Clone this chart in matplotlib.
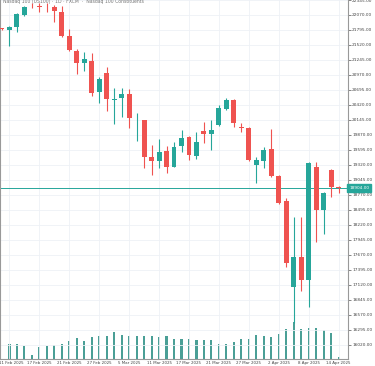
import datetime as dt
import matplotlib
matplotlib.use("Agg")
import matplotlib.pyplot as plt
import matplotlib.transforms as mtransforms
import numpy as np

# ---------------- data ----------------
dates = []
d = dt.date(2025, 2, 10)
while len(dates) < 46:
    if d.weekday() < 5:
        dates.append(d)
    d += dt.timedelta(days=1)

opens = [21830, 21795, 21850, 22070, 22240, 22235, 22240, 22217, 22125, 21685,
         21410, 21190, 21227, 20658, 21007, 20512, 20548, 20622, 20195, 20145,
         19467, 19393, 19577, 19283, 19668, 19833, 19485, 19943, 19888, 20053,
         20347, 20512, 20017, 19998, 19320, 19393, 19613, 19118, 18660, 17083,
         17633, 17212, 19283, 18495, 19228, 18910]
highs = [21840, 21860, 22107, 22235, 22290, 22290, 22295, 22253, 22235, 21813,
         21447, 21392, 21373, 20933, 21117, 20732, 20732, 20713, 20273, 20150,
         19687, 19797, 19668, 19742, 19962, 19852, 19925, 20108, 20145, 20420,
         20548, 20530, 20090, 20017, 19467, 19650, 19980, 19137, 18715, 18367,
         18367, 19375, 19375, 18825, 19247, 18935]
lows = [21800, 21502, 21758, 22060, 22198, 22125, 22125, 21942, 21667, 21410,
        20988, 21043, 20585, 20457, 20310, 20072, 20200, 19998, 19760, 19265,
        19137, 19265, 19173, 19280, 19558, 19412, 19430, 19723, 19595, 20035,
        20328, 20017, 19925, 19393, 18990, 19265, 19100, 18605, 17450, 16423,
        17003, 16717, 17908, 18055, 18733, 18807]
closes = [21813, 21850, 22088, 22217, 22230, 22225, 22230, 22143, 21685, 21428,
          21190, 21263, 20640, 20897, 20530, 20530, 20622, 20182, 20205, 19467,
          19393, 19558, 19283, 19650, 19815, 19503, 19742, 19888, 19962, 20365,
          20512, 20090, 19998, 19412, 19412, 19595, 19118, 18623, 17523, 17633,
          17212, 19357, 18495, 18807, 18917, 18904]
volumes = [0, 153, 153, 127, 43, 117, 133, 143, 153, 177,
           210, 177, 220, 227, 233, 267, 243, 227, 227, 227,
           233, 220, 233, 200, 200, 200, 187, 187, 187, 153,
           153, 167, 200, 200, 243, 227, 222, 253, 300, 367,
           305, 312, 312, 293, 260, 25]
tick_idx = list(range(1, 46, 4))
y_ticks = [16020 + 275 * j for j in range(24)]
last_price = 18904.00
title = "Nasdaq 100 (US100) · 1D · FXCM  ·  Nasdaq 100 Constituents"

# ---------------- styling ----------------
UP = "#26a69a"
DOWN = "#ef5350"
W, H = 375, 366
fig = plt.figure(figsize=(W / 100, H / 100), dpi=100)
fig.patch.set_facecolor("white")

left_px, right_px, top_px, bot_px = 0, 348, 0, 359
ax = fig.add_axes([left_px / W, (H - bot_px) / H, (right_px - left_px) / W,
                   (bot_px - top_px) / H])
axv = ax.twinx()
axv.set_zorder(0)
ax.set_zorder(1)
ax.patch.set_visible(False)

n = len(opens)
x = np.arange(n)

# volume
axv.bar(x, volumes, width=0.28, color="#4a9f96", linewidth=0)
axv.set_ylim(0, 3590)
axv.axis("off")

# candles
for i in range(n):
    o, h, l, c = opens[i], highs[i], lows[i], closes[i]
    col = UP if c >= o else DOWN
    ax.vlines(x[i], l, h, color=col, linewidth=0.8, zorder=3)
    bottom = min(o, c)
    height = max(abs(c - o), 12)
    ax.bar(x[i], height, bottom=bottom, width=0.66, color=col,
           linewidth=0, zorder=4)

ax.set_xlim(-0.267, 46.26)
ax.set_ylim(15763, 22345)

# price line
ax.axhline(last_price, color=UP, linewidth=0.7, zorder=2)

# grid
ax.set_yticks(y_ticks)
ax.set_yticklabels([f"{v:.2f}" for v in y_ticks])
ax.set_xticks(tick_idx)
ax.set_xticklabels([f"{dates[i].day} {dates[i].strftime('%b %Y')}" for i in tick_idx])
ax.grid(True, color="#eef1f6", linewidth=0.6, zorder=0)
ax.set_axisbelow(True)

ax.yaxis.tick_right()
ax.tick_params(axis="y", which="both", labelsize=3.1, colors="#555555",
               length=2, width=0.5, pad=1)
ax.tick_params(axis="x", labelsize=2.9, colors="#444444", length=0, pad=1.5)
for lab in ax.get_yticklabels():
    lab.set_color("#444444")
first = ax.get_xticklabels()[0]
first.set_transform(first.get_transform() +
                    mtransforms.ScaledTranslation(2 / 100, 0, fig.dpi_scale_trans))

ax.spines["top"].set_visible(False)
for side in ["left", "right", "bottom"]:
    ax.spines[side].set_color("#999999")
    ax.spines[side].set_linewidth(0.8)

# last price label
trans = mtransforms.blended_transform_factory(ax.transAxes, ax.transData)
ax.text(1.003, last_price, f"{last_price:.2f}", transform=trans,
        fontsize=3.1, color="white", ha="left", va="center", zorder=10,
        bbox=dict(boxstyle="square,pad=0.45", facecolor=UP, edgecolor=UP),
        clip_on=False)

# title
fig.text(3 / W, 1 - 1.5 / H, title, fontsize=3.3, color="#777777",
         ha="left", va="center")

fig.savefig("out.png", dpi=100, facecolor="white")
